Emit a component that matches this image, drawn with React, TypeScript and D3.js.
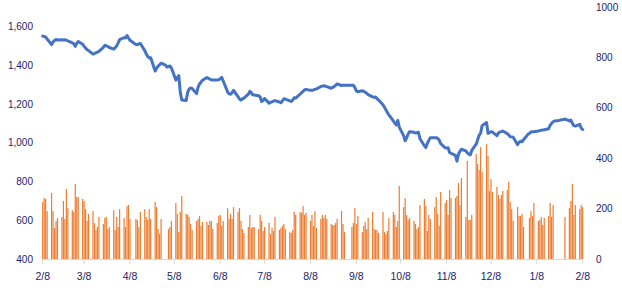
import React from "react";
import * as d3 from "d3";

// Trading-day volume (right axis), one row per calendar week (Mon–Fri), first row starts Tue 2022-02-08
const volumeWeeks: number[][] = [
  [226, 242, 238, 190],
  [262, 190, 123, 151, 163],
  [167, 230, 159, 278, 202],
  [194, 187, 298, 246, 246],
  [238, 230, 198, 151, 179],
  [190, 143, 115, 127, 167],
  [139, 163, 167, 119, 127],
  [194, 115, 167, 127, 198],
  [163, 127, 210, 214, 159],
  [0, 159, 155, 127, 187],
  [198, 167, 155, 198, 159],
  [226, 206, 119, 99, 159],
  [0, 0, 119, 127, 151],
  [222, 179, 107, 187, 250],
  [179, 175, 167, 139, 115],
  [151, 159, 171, 131, 147],
  [147, 135, 151, 151, 119],
  [143, 171, 175, 131, 151],
  [202, 159, 179, 159, 206],
  [187, 202, 151, 119, 103],
  [127, 175, 123, 127, 127],
  [119, 175, 151, 111, 127],
  [143, 99, 123, 111, 167],
  [115, 123, 131, 139, 119],
  [107, 103, 115, 187, 175],
  [187, 183, 210, 175, 183],
  [151, 175, 131, 190, 123],
  [159, 175, 163, 175, 159],
  [139, 135, 135, 143, 159],
  [190, 139, 107, 0, 0],
  [127, 143, 202, 139, 171],
  [107, 131, 147, 119, 163],
  [187, 119, 115, 115, 103],
  [187, 107, 99, 111, 163],
  [187, 175, 127, 151, 290],
  [206, 242, 175, 155, 163],
  [151, 139, 119, 127, 214],
  [238, 210, 111, 175, 159],
  [206, 246, 179, 131, 266],
  [222, 234, 175, 274, 242],
  [242, 250, 302, 214, 321],
  [167, 389, 155, 155, 175],
  [417, 377, 353, 444, 345],
  [456, 409, 270, 317, 266],
  [286, 254, 238, 254, 270],
  [274, 306, 226, 198, 151],
  [206, 171, 171, 179, 127],
  [0, 163, 190, 171, 222],
  [151, 155, 167, 135, 163],
  [171, 222, 167, 214, 0],
  [0, 0, 0, 0, 167],
  [202, 230, 298, 175, 214],
  [198, 214, 206],
];

// Closing level (left axis), same layout
const priceWeeks: number[][] = [
  [1550, 1548, 1545, 1535],
  [1506, 1520, 1527, 1532, 1530],
  [1531, 1530, 1531, 1528, 1525],
  [1515, 1510, 1497, 1512, 1522],
  [1508, 1497, 1488, 1480, 1475],
  [1457, 1460, 1464, 1467, 1471],
  [1492, 1502, 1500, 1496, 1491],
  [1483, 1490, 1499, 1515, 1532],
  [1542, 1540, 1553, 1540, 1528],
  [1512, 1507, 1505, 1510, 1512],
  [1475, 1458, 1445, 1437, 1438],
  [1370, 1385, 1395, 1402, 1410],
  [1400, 1390, 1393, 1396, 1385],
  [1323, 1335, 1346, 1260, 1220],
  [1218, 1260, 1278, 1282, 1280],
  [1253, 1285, 1303, 1312, 1322],
  [1336, 1332, 1328, 1324, 1323],
  [1323, 1325, 1330, 1337, 1318],
  [1262, 1252, 1250, 1258, 1270],
  [1238, 1225, 1220, 1226, 1230],
  [1250, 1265, 1258, 1247, 1246],
  [1242, 1236, 1212, 1218, 1228],
  [1204, 1208, 1211, 1214, 1217],
  [1210, 1206, 1215, 1227, 1225],
  [1216, 1213, 1220, 1232, 1230],
  [1250, 1258, 1265, 1272, 1275],
  [1270, 1271, 1272, 1275, 1277],
  [1290, 1292, 1294, 1292, 1289],
  [1281, 1285, 1290, 1296, 1303],
  [1295, 1296, 1296, 1296, 1296],
  [1296, 1296, 1285, 1267, 1263],
  [1268, 1265, 1260, 1255, 1248],
  [1236, 1235, 1236, 1227, 1220],
  [1196, 1183, 1170, 1155, 1143],
  [1112, 1100, 1092, 1115, 1080],
  [1035, 1010, 1025, 1045, 1057],
  [1054, 1050, 1051, 1054, 1020],
  [984, 975, 997, 1012, 1026],
  [1026, 1026, 1022, 1014, 995],
  [974, 972, 974, 950, 945],
  [935, 905, 940, 955, 966],
  [958, 947, 942, 937, 960],
  [992, 1015, 1038, 1049, 1088],
  [1104, 1048, 1052, 1057, 1055],
  [1036, 1050, 1055, 1057, 1060],
  [1047, 1040, 1031, 1030, 1028],
  [990, 1002, 1008, 1005, 1015],
  [1043, 1048, 1055, 1057, 1057],
  [1060, 1062, 1064, 1066, 1067],
  [1072, 1090, 1100, 1108, 1112],
  [1115, 1117, 1119, 1120, 1122],
  [1112, 1117, 1100, 1088, 1086],
  [1095, 1075, 1068],
];

const leftTicks = [400, 600, 800, 1000, 1200, 1400, 1600];
const rightTicks = [0, 200, 400, 600, 800, 1000];
const startDate = Date.UTC(2022, 1, 8);
const endDate = Date.UTC(2023, 1, 8);

const W = 622;
const H = 302;
const X0 = 42.7;
const X1 = 582.7;
const YTOP = 7;
const YBOT = 259;
const TEXT = "#22226b";
const FONT = "'Liberation Sans', Arial, sans-serif";

export default function App() {
  React.useEffect(() => {
    document.body.style.margin = "0";
  }, []);

  const days = d3
    .utcDay.range(new Date(startDate), new Date(endDate + 86400000))
    .filter((d) => d.getUTCDay() !== 0 && d.getUTCDay() !== 6);
  const vols = volumeWeeks.flat();
  const prices = priceWeeks.flat();
  const data = days.map((d, i) => ({ date: d, vol: vols[i] ?? 0, price: prices[i] }));

  const x = d3.scaleUtc().domain([new Date(startDate), new Date(endDate)]).range([X0, X1]);
  const yL = d3.scaleLinear().domain([400, 1700]).range([YBOT, YTOP]);
  const yR = d3.scaleLinear().domain([0, 1000]).range([YBOT, YTOP]);

  const monthTicks = d3.range(13).map((i) => new Date(Date.UTC(2022, 1 + i, 8)));
  const fmt = d3.utcFormat("%-m/%-d");
  const fmtL = d3.format(",");

  const line = d3
    .line<{ date: Date; price: number }>()
    .defined((d) => d.price != null)
    .x((d) => x(d.date))
    .y((d) => yL(d.price));

  const bw = 1.2;

  return (
    <svg width={W} height={H} style={{ position: "absolute", left: 0, top: 0, background: "#fff" }}>
      <rect x={0} y={0} width={W} height={H} fill="#fff" />
      {/* bars */}
      <g>
        {data
          .filter((d) => d.vol > 0)
          .map((d, i) => (
            <rect
              key={i}
              x={x(d.date) - bw / 2}
              y={yR(d.vol)}
              width={bw}
              height={YBOT - yR(d.vol)}
              fill="#ED7D31"
            />
          ))}
      </g>
      {/* x axis */}
      <line x1={X0} x2={X1} y1={YBOT + 0.5} y2={YBOT + 0.5} stroke="#d9d9d9" strokeWidth={1} />
      {monthTicks.map((t, i) => (
        <g key={i}>
          <line x1={x(t)} x2={x(t)} y1={YBOT} y2={YBOT + 5} stroke="#d9d9d9" strokeWidth={1} />
          <text x={x(t)} y={280} textAnchor="middle" fontSize={10.5} fontFamily={FONT} fill={TEXT}>
            {fmt(t)}
          </text>
        </g>
      ))}
      {/* line */}
      <path
        d={line(data) || ""}
        fill="none"
        stroke="#4472C4"
        strokeWidth={3}
        strokeLinejoin="round"
        strokeLinecap="round"
      />
      {/* left axis labels */}
      {leftTicks.map((t) => (
        <text key={t} x={33} y={yL(t) + 3.6} textAnchor="end" fontSize={10} fontFamily={FONT} fill={TEXT}>
          {fmtL(t)}
        </text>
      ))}
      {/* right axis labels */}
      {rightTicks.map((t) => (
        <text key={t} x={596} y={yR(t) + 3.6} textAnchor="start" fontSize={10} fontFamily={FONT} fill={TEXT}>
          {String(t)}
        </text>
      ))}
    </svg>
  );
}
